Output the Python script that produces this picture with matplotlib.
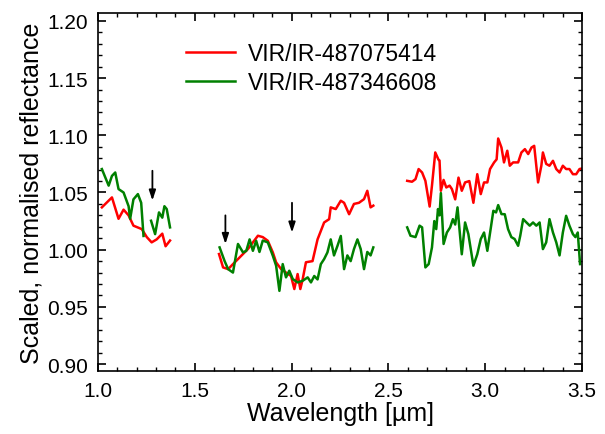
import numpy as np
import matplotlib
matplotlib.use("Agg")
import matplotlib.pyplot as plt
from matplotlib.ticker import MultipleLocator

plt.rcParams.update({
    "font.family": ["Liberation Sans", "DejaVu Sans"],
    "xtick.direction": "in",
    "ytick.direction": "in",
    "xtick.top": True,
    "ytick.right": True,
})

# spectrum VIR/IR-487075414 (three windows)
red_x1 = [1.02, 1.072, 1.106, 1.132, 1.158, 1.183, 1.226, 1.252, 1.277, 1.303, 1.332, 1.349, 1.372]
red_y1 = [1.037, 1.0457, 1.027, 1.035, 1.030, 1.021, 1.018, 1.011, 1.0064, 1.009, 1.014, 1.003, 1.008]
red_x2 = [1.625, 1.646, 1.672, 1.706, 1.740, 1.774, 1.800, 1.826, 1.851, 1.877, 1.903, 1.920, 1.946,
          1.971, 1.997, 2.014, 2.031, 2.045, 2.057, 2.074, 2.108, 2.134, 2.168, 2.194, 2.202, 2.228,
          2.254, 2.271, 2.297, 2.322, 2.348, 2.374, 2.391, 2.408, 2.422]
red_y2 = [0.9962, 0.9845, 0.983, 0.9889, 0.9947, 1.0005, 1.0064, 1.0122, 1.011, 1.0078, 0.9976, 0.9889, 0.983,
          0.980, 0.977, 0.9656, 0.9787, 0.9656, 0.974, 0.989, 0.990, 1.009, 1.0238, 1.0267, 1.037, 1.0355,
          1.0428, 1.041, 1.031, 1.040, 1.041, 1.0442, 1.0515, 1.037, 1.0385]
red_x3 = [2.597, 2.622, 2.640, 2.656, 2.674, 2.691, 2.713, 2.725, 2.742, 2.759, 2.764, 2.771, 2.785,
          2.799, 2.816, 2.828, 2.845, 2.862, 2.879, 2.896, 2.918, 2.939, 2.959, 2.977, 2.994, 3.011,
          3.025, 3.046, 3.059, 3.067, 3.084, 3.097, 3.114, 3.127, 3.144, 3.170, 3.187, 3.205, 3.222,
          3.239, 3.253, 3.273, 3.290, 3.298, 3.315, 3.332, 3.350, 3.367, 3.384, 3.401, 3.418, 3.435,
          3.453, 3.470, 3.487, 3.50]
red_y3 = [1.0602, 1.0594, 1.0617, 1.0705, 1.0675, 1.0602, 1.0377, 1.056, 1.085, 1.0786, 1.078, 1.0515, 1.061,
          1.0544, 1.056, 1.053, 1.044, 1.063, 1.0515, 1.0588, 1.060, 1.041, 1.066, 1.0486, 1.0588, 1.0588,
          1.0705, 1.0763, 1.079, 1.0972, 1.0893, 1.0763, 1.0865, 1.0734, 1.0763, 1.0763, 1.085, 1.0879, 1.0836,
          1.0893, 1.0908, 1.0588, 1.0734, 1.085, 1.075, 1.0734, 1.0777, 1.0705, 1.0675, 1.0734, 1.0705, 1.0705,
          1.066, 1.066, 1.0705, 1.071]

# spectrum VIR/IR-487346608 (gap near 1.25 um)
green_x1 = [1.02, 1.055, 1.072, 1.089, 1.106, 1.132, 1.158, 1.166, 1.183, 1.206, 1.223, 1.235,
            1.25, 1.274, 1.295, 1.315, 1.332, 1.343, 1.355, 1.372]
green_y1 = [1.0705, 1.056, 1.0645, 1.0675, 1.053, 1.050, 1.038, 1.027, 1.044, 1.0486, 1.041, 1.012,
            np.nan, 1.0253, 1.0136, 1.0326, 1.028, 1.038, 1.0355, 1.0195]
green_x2 = [1.628, 1.654, 1.672, 1.697, 1.723, 1.749, 1.766, 1.783, 1.800, 1.817, 1.834, 1.851, 1.877,
            1.903, 1.920, 1.937, 1.954, 1.971, 1.988, 2.006, 2.031, 2.057, 2.083, 2.100, 2.117, 2.134,
            2.151, 2.168, 2.185, 2.202, 2.219, 2.237, 2.254, 2.271, 2.288, 2.305, 2.322, 2.340, 2.357,
            2.374, 2.391, 2.408, 2.422]
green_y2 = [1.002, 0.990, 0.983, 0.980, 1.005, 0.9976, 0.999, 1.009, 0.999, 1.0078, 0.998, 1.008, 1.0064,
            0.9947, 0.986, 0.964, 0.9874, 0.9758, 0.9816, 0.9743, 0.9714, 0.9728, 0.9758, 0.9714, 0.977, 0.974,
            0.9874, 0.9918, 0.9976, 1.009, 0.995, 1.0034, 1.012, 0.983, 0.995, 0.990, 1.0005, 1.009, 1.0005,
            0.983, 0.998, 0.995, 1.002]
green_x3 = [2.597, 2.614, 2.640, 2.661, 2.674, 2.691, 2.708, 2.725, 2.737, 2.747, 2.756, 2.764, 2.771,
            2.785, 2.802, 2.819, 2.833, 2.845, 2.857, 2.867, 2.879, 2.896, 2.913, 2.939, 2.959, 2.977,
            2.994, 3.011, 3.028, 3.042, 3.056, 3.067, 3.084, 3.101, 3.118, 3.135, 3.152, 3.170, 3.181,
            3.196, 3.213, 3.230, 3.247, 3.264, 3.281, 3.298, 3.315, 3.332, 3.350, 3.367, 3.384, 3.401,
            3.418, 3.435, 3.453, 3.466, 3.478, 3.490]
green_y3 = [1.0195, 1.0122, 1.011, 1.021, 1.0195, 0.9845, 0.9874, 1.002, 1.025, 1.018, 1.0355, 1.030, 1.0495,
            1.005, 1.015, 1.0195, 1.0267, 1.022, 1.037, 1.018, 0.996, 1.0238, 1.0136, 0.986, 0.996, 1.0093,
            1.015, 0.999, 1.018, 1.034, 1.0326, 1.039, 1.0311, 1.031, 1.018, 1.011, 1.0093, 1.0034, 1.0122,
            1.0267, 1.0238, 1.021, 1.0238, 1.021, 1.0238, 1.0005, 1.0064, 1.0267, 1.015, 1.0064, 0.995, 1.015,
            1.0296, 1.021, 1.0136, 1.011, 1.015, 0.9874]

# absorption band markers: (x, arrow top, arrow tip)
arrow_x = [1.281, 1.658, 2.002]
arrow_top = [1.069, 1.030, 1.041]
arrow_tip = [1.043, 1.005, 1.015]

labels = ["VIR/IR-487075414", "VIR/IR-487346608"]

fig = plt.figure(figsize=(6.05, 4.35), dpi=100)
ax = fig.add_axes([0.162, 0.145, 0.800, 0.823])

for i, (xs, ys) in enumerate([(red_x1, red_y1), (red_x2, red_y2), (red_x3, red_y3)]):
    ax.plot(xs, ys, color="#ff0000", lw=1.8, label=labels[0] if i == 0 else None)
for i, (xs, ys) in enumerate([(green_x1, green_y1), (green_x2, green_y2), (green_x3, green_y3)]):
    ax.plot(xs, ys, color="#008000", lw=1.8, label=labels[1] if i == 0 else None)

for x, y0, y1 in zip(arrow_x, arrow_top, arrow_tip):
    ax.annotate("", xy=(x, y1), xytext=(x, y0),
                arrowprops=dict(arrowstyle="-|>,head_length=0.6,head_width=0.2",
                                color="black", lw=1.3, shrinkA=0, shrinkB=0))

ax.set_xlim(1.0, 3.5)
ax.set_ylim(0.894, 1.207)
ax.xaxis.set_major_locator(MultipleLocator(0.5))
ax.xaxis.set_minor_locator(MultipleLocator(0.1))
ax.yaxis.set_major_locator(MultipleLocator(0.05))
ax.yaxis.set_minor_locator(MultipleLocator(0.01))
ax.xaxis.set_major_formatter(matplotlib.ticker.FormatStrFormatter("%.1f"))
ax.yaxis.set_major_formatter(matplotlib.ticker.FormatStrFormatter("%.2f"))
ax.tick_params(which="major", length=6, width=1.2, labelsize=15, pad=7)
ax.tick_params(which="minor", length=3, width=1.0)
for s in ax.spines.values():
    s.set_linewidth(1.2)

ax.set_xlabel("Wavelength [µm]", fontsize=18, labelpad=1)
ax.set_ylabel("Scaled, normalised reflectance", fontsize=18, labelpad=3)

ax.legend(loc="upper left", bbox_to_anchor=(0.14, 0.975), frameon=False, fontsize=16.5,
          handlelength=2.1, handletextpad=0.6, labelspacing=0.25)

fig.savefig("out.png", dpi=100)
